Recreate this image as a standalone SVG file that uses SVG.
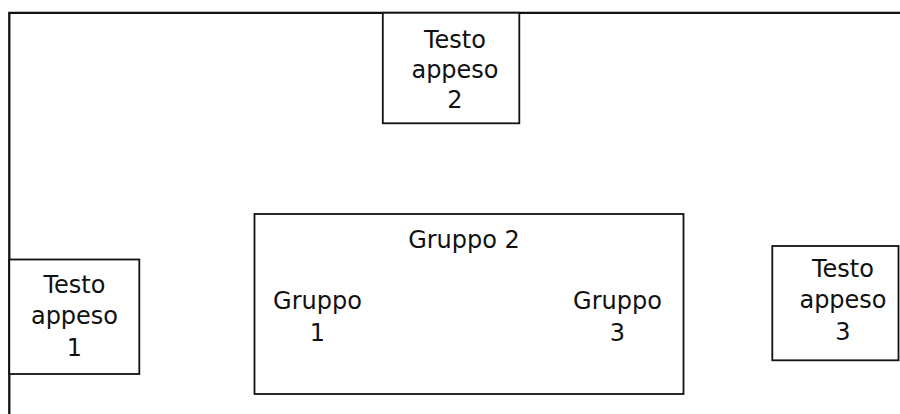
<svg xmlns="http://www.w3.org/2000/svg" width="900" height="414" viewBox="0 0 900 414">
  <style>
    .box { fill: #ffffff; stroke: #111111; stroke-width: 1.8; }
    .frame { fill: none; stroke: #111111; stroke-width: 2.3; }
    .lbl { font-family: "DejaVu Sans", "Liberation Sans", sans-serif; font-size: 24px; fill: #111111; text-anchor: middle; }
  </style>
  <rect width="900" height="414" fill="#ffffff"/>

  <!-- open page frame: top and left edges only -->
  <g id="frame">
    <path class="frame" d="M9.3 414 V12.8 H900"/>
  </g>

  <g id="gruppo2">
    <rect class="box" x="254.5" y="214" width="429" height="180"/>
    <text class="lbl" x="464" y="248.3">Gruppo 2</text>
  </g>

  <g id="gruppo1">
    <text class="lbl" x="317.5" y="309.3">Gruppo</text>
    <text class="lbl" x="317.5" y="341">1</text>
  </g>

  <g id="gruppo3">
    <text class="lbl" x="617.5" y="309.3">Gruppo</text>
    <text class="lbl" x="617.5" y="341">3</text>
  </g>

  <g id="testo-appeso-2">
    <rect class="box" x="382.8" y="12.8" width="136.5" height="110.5"/>
    <text class="lbl" x="455" y="47.6">Testo</text>
    <text class="lbl" x="455" y="78">appeso</text>
    <text class="lbl" x="455" y="108.4">2</text>
  </g>

  <g id="testo-appeso-1">
    <rect class="box" x="9.3" y="259.5" width="130" height="114.5"/>
    <text class="lbl" x="74.5" y="292.7">Testo</text>
    <text class="lbl" x="74.5" y="324">appeso</text>
    <text class="lbl" x="74.5" y="355.7">1</text>
  </g>

  <g id="testo-appeso-3">
    <rect class="box" x="772.3" y="246" width="126.2" height="114.3"/>
    <text class="lbl" x="843" y="276.7">Testo</text>
    <text class="lbl" x="843" y="308">appeso</text>
    <text class="lbl" x="843" y="340">3</text>
  </g>
</svg>
